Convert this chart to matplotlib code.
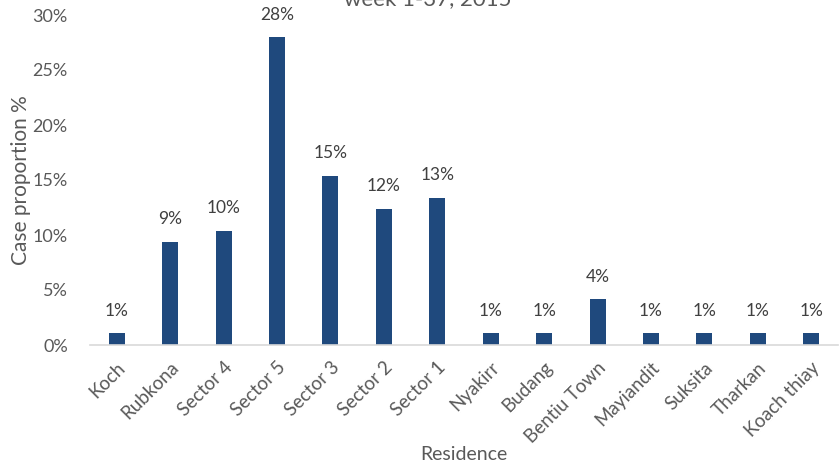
import matplotlib.pyplot as plt
from matplotlib.ticker import FuncFormatter

plt.rcParams["font.family"] = ["Lato", "DejaVu Sans"]

residences = ["Koch", "Rubkona", "Sector 4", "Sector 5", "Sector 3", "Sector 2",
              "Sector 1", "Nyakirr", "Budang", "Bentiu Town", "Mayiandit",
              "Suksita", "Tharkan", "Koach thiay"]
proportions = [1.1, 9.4, 10.4, 28.0, 15.4, 12.4, 13.4, 1.1, 1.1, 4.2, 1.1, 1.1, 1.1, 1.1]

grey = "#595959"
bar_color = "#1f497d"

fig = plt.figure(figsize=(8.39, 4.74), dpi=100)
ax = fig.add_axes([90 / 839, 1 - 345 / 474, 748 / 839, 330 / 474])

x = range(len(residences))
bars = ax.bar(x, proportions, width=0.3, color=bar_color)
for b, v in zip(bars, proportions):
    ax.text(b.get_x() + b.get_width() / 2, v + 1.3, f"{round(v):.0f}%",
            ha="center", va="bottom", fontsize=12.5, color="#404040")

ax.set_xlim(-0.5, len(residences) - 0.5)
ax.set_ylim(0, 30)
ax.set_yticks(range(0, 31, 5))
ax.yaxis.set_major_formatter(FuncFormatter(lambda v, p: f"{v:.0f}%"))
ax.set_xticks(list(x))
ax.set_xticklabels(residences, rotation=45, ha="right", rotation_mode="anchor")

for s in ["top", "right", "left"]:
    ax.spines[s].set_visible(False)
ax.spines["bottom"].set_color("#d9d9d9")
ax.spines["bottom"].set_linewidth(1.2)
ax.tick_params(axis="both", length=0, labelsize=13, colors=grey, pad=16)
ax.tick_params(axis="x", labelsize=13.5, pad=10)

ax.set_ylabel("Case proportion %", fontsize=15, color=grey, labelpad=1)
ax.set_xlabel("Residence", fontsize=14, color=grey, labelpad=0)

fig.text(428 / 839, 1 - 5 / 474, "week 1-37, 2015", ha="center", va="baseline",
         fontsize=16, color=grey)

fig.savefig("out.png", dpi=100)
